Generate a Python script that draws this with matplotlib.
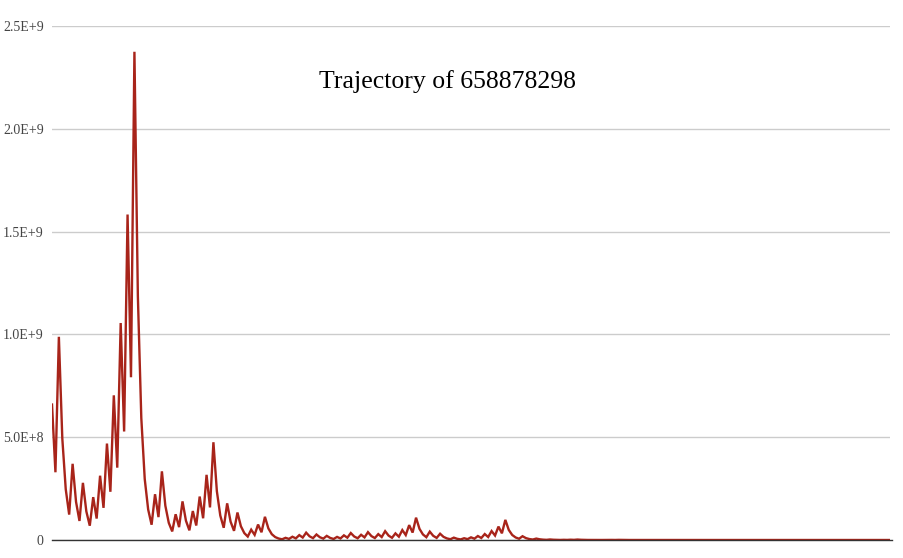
import matplotlib
matplotlib.use("Agg")
import matplotlib.pyplot as plt

# Collatz trajectory values, step by step
trajectory = [
    658878298, 329439149, 988317448, 494158724, 247079362, 123539681, 370619044,
    185309522, 92654761, 277964284, 138982142, 69491071, 208473214, 104236607,
    312709822, 156354911, 469064734, 234532367, 703597102, 351798551, 1055395654,
    527697827, 1583093482, 791546741, 2374640224, 1187320112, 593660056, 296830028,
    148415014, 74207507, 222622522, 111311261, 333933784, 166966892, 83483446,
    41741723, 125225170, 62612585, 187837756, 93918878, 46959439, 140878318,
    70439159, 211317478, 105658739, 316976218, 158488109, 475464328, 237732164,
    118866082, 59433041, 178299124, 89149562, 44574781, 133724344, 66862172,
    33431086, 16715543, 50146630, 25073315, 75219946, 37609973, 112829920,
    56414960, 28207480, 14103740, 7051870, 3525935, 10577806, 5288903, 15866710,
    7933355, 23800066, 11900033, 35700100, 17850050, 8925025, 26775076, 13387538,
    6693769, 20081308, 10040654, 5020327, 15060982, 7530491, 22591474, 11295737,
    33887212, 16943606, 8471803, 25415410, 12707705, 38123116, 19061558, 9530779,
    28592338, 14296169, 42888508, 21444254, 10722127, 32166382, 16083191,
    48249574, 24124787, 72374362, 36187181, 108561544, 54280772, 27140386,
    13570193, 40710580, 20355290, 10177645, 30532936, 15266468, 7633234, 3816617,
    11449852, 5724926, 2862463, 8587390, 4293695, 12881086, 6440543, 19321630,
    9660815, 28982446, 14491223, 43473670, 21736835, 65210506, 32605253, 97815760,
    48907880, 24453940, 12226970, 6113485, 18340456, 9170228, 4585114, 2292557,
    6877672, 3438836, 1719418, 859709, 2579128, 1289564, 644782, 322391, 967174,
    483587, 1450762, 725381, 2176144, 1088072, 544036, 272018, 136009, 408028,
    204014, 102007, 306022, 153011, 459034, 229517, 688552, 344276, 172138, 86069,
    258208, 129104, 64552, 32276, 16138, 8069, 24208, 12104, 6052, 3026, 1513,
    4540, 2270, 1135, 3406, 1703, 5110, 2555, 7666, 3833, 11500, 5750, 2875, 8626,
    4313, 12940, 6470, 3235, 9706, 4853, 14560, 7280, 3640, 1820, 910, 455, 1366,
    683, 2050, 1025, 3076, 1538, 769, 2308, 1154, 577, 1732, 866, 433, 1300, 650,
    325, 976, 488, 244, 122, 61, 184, 92, 46, 23, 70, 35, 106, 53, 160, 80, 40,
    20, 10, 5, 16, 8, 4, 2, 1,
]
y_ticks = [0, 5.0e8, 1.0e9, 1.5e9, 2.0e9, 2.5e9]
y_labels = ["0", "5.0E+8", "1.0E+9", "1.5E+9", "2.0E+9", "2.5E+9"]
title = "Trajectory of 658878298"

fig = plt.figure(figsize=(9.04, 5.58), dpi=100)
ax = fig.add_axes([52 / 904, 1 - 540 / 558, (890 - 52) / 904, (540 - 26) / 558])

steps = list(range(len(trajectory)))
ax.plot(steps, trajectory, color="#a8241a", linewidth=1.7, solid_joinstyle="miter")

ax.set_xlim(0, len(trajectory) - 1)
ax.set_ylim(0, 2.5e9)
ax.set_yticks(y_ticks)
ax.set_yticklabels(y_labels, fontfamily="Liberation Serif", fontsize=10, color="#444444")
ax.set_xticks([])
ax.tick_params(axis="y", length=0, pad=6)
ax.grid(axis="y", color="#cccccc", linewidth=1)
ax.set_axisbelow(True)
for side in ["top", "right", "left"]:
    ax.spines[side].set_visible(False)
ax.spines["bottom"].set_color("#333333")
ax.spines["bottom"].set_linewidth(1)
ax.spines["bottom"].set_bounds(0, len(trajectory) - 1 + 0.6)
ax.spines["bottom"].set_zorder(3)

fig.text(448 / 904, 1 - 82 / 558, title, ha="center", va="center",
         fontfamily="Liberation Serif", fontsize=18.5, color="#000000")

fig.savefig("out.png", dpi=100)
